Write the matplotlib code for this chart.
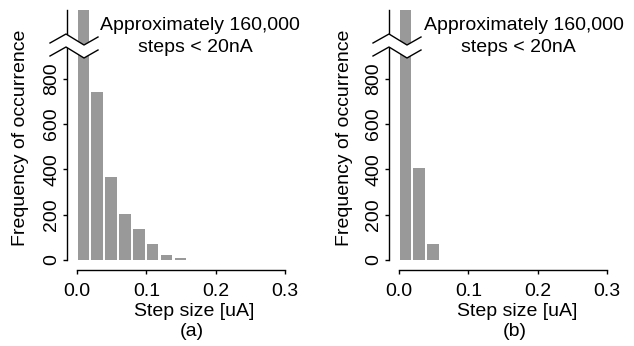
import matplotlib
matplotlib.use("Agg")
import matplotlib.pyplot as plt
from matplotlib.transforms import Affine2D
import numpy as np

plt.rcParams['font.family'] = ['Liberation Sans', 'DejaVu Sans']

# ---- data ----
bin_width = 0.02
counts_a = [160000, 744, 368, 203, 135, 72, 22, 7]
counts_b = [160000, 405, 71, 2, 1, 1]
x_ticks = [0.0, 0.1, 0.2, 0.3]
x_ticklabels = ["0.0", "0.1", "0.2", "0.3"]
y_ticks = [0, 200, 400, 600, 800]
y_ticklabels = ["0", "200", "400", "600", "800"]
note_lines = ["Approximately 160,000", "steps < 20nA"]
xlabel = "Step size [uA]"
ylabel = "Frequency of occurrence"
panel_tags = ["(a)", "(b)"]

W, H = 634, 346
fig = plt.figure(figsize=(W / 100, H / 100), dpi=100)
PX = Affine2D().scale(1 / W, -1 / H).translate(0, 1) + fig.transFigure

FS = 14
BAR_COLOR = '#999999'

def panel(left_px, counts, tag, spine_px, ylab_px, xlab_px, note_px):
    ax = fig.add_axes([left_px / W, (H - 260) / H, 208 / W, 250 / H])
    edges = np.arange(len(counts)) * bin_width
    ax.bar(edges + 0.0008, counts, width=0.0166, align='edge', color=BAR_COLOR,
           linewidth=0)
    ax.set_xlim(0, 0.3)
    ax.set_ylim(0, 1104)
    for s in ('top', 'right'):
        ax.spines[s].set_visible(False)
    ax.spines['left'].set_position(('outward', 7.5))
    ax.spines['bottom'].set_position(('outward', 7.2))
    ax.spines['bottom'].set_bounds(0, 0.3)
    ax.spines['left'].set_bounds(0, 1104)
    for s in ('left', 'bottom'):
        ax.spines[s].set_linewidth(1.0)
    ax.set_xticks(x_ticks)
    ax.set_xticklabels(x_ticklabels, fontsize=FS)
    ax.set_yticks(y_ticks)
    ax.set_yticklabels(y_ticklabels, fontsize=FS, rotation=90, va='center')
    ax.tick_params(axis='both', direction='out', length=3, width=1.0)
    ax.tick_params(axis='x', pad=6)
    ax.tick_params(axis='y', pad=1.5)

    # axis break (zigzag)
    offs_x = np.array([-16, 0, 18, 32])
    up_y = np.array([43, 34, 45, 37])
    lo_y = up_y + 13
    xs = spine_px + offs_x
    poly = list(zip(xs, up_y)) + list(zip(xs[::-1], lo_y[::-1]))
    fig.patches.append(plt.Polygon(poly, closed=True, facecolor='white',
                                   edgecolor='none', transform=PX, zorder=10))
    for yy in (up_y, lo_y):
        fig.add_artist(plt.Line2D(xs, yy, color='black', lw=1.0,
                                  transform=PX, zorder=11))

    fig.text(ylab_px / W, 1 - 138 / H, ylabel, rotation=90, ha='center',
             va='center', fontsize=FS)
    fig.text(xlab_px / W, 1 - 312 / H, xlabel, ha='center', va='center',
             fontsize=FS)
    fig.text((xlab_px - 2) / W, 1 - 331 / H, tag, ha='center', va='center',
             fontsize=FS)
    fig.text(note_px[0] / W, 1 - 30 / H, note_lines[0], ha='center',
             va='baseline', fontsize=FS, zorder=12)
    fig.text(note_px[1] / W, 1 - 52 / H, note_lines[1], ha='center',
             va='baseline', fontsize=FS, zorder=12)
    return ax

panel(77, counts_a, panel_tags[0], 66, 21, 194, (200, 195))
panel(399, counts_b, panel_tags[1], 389, 345, 517, (524, 518))

fig.savefig("out.png", dpi=100)
